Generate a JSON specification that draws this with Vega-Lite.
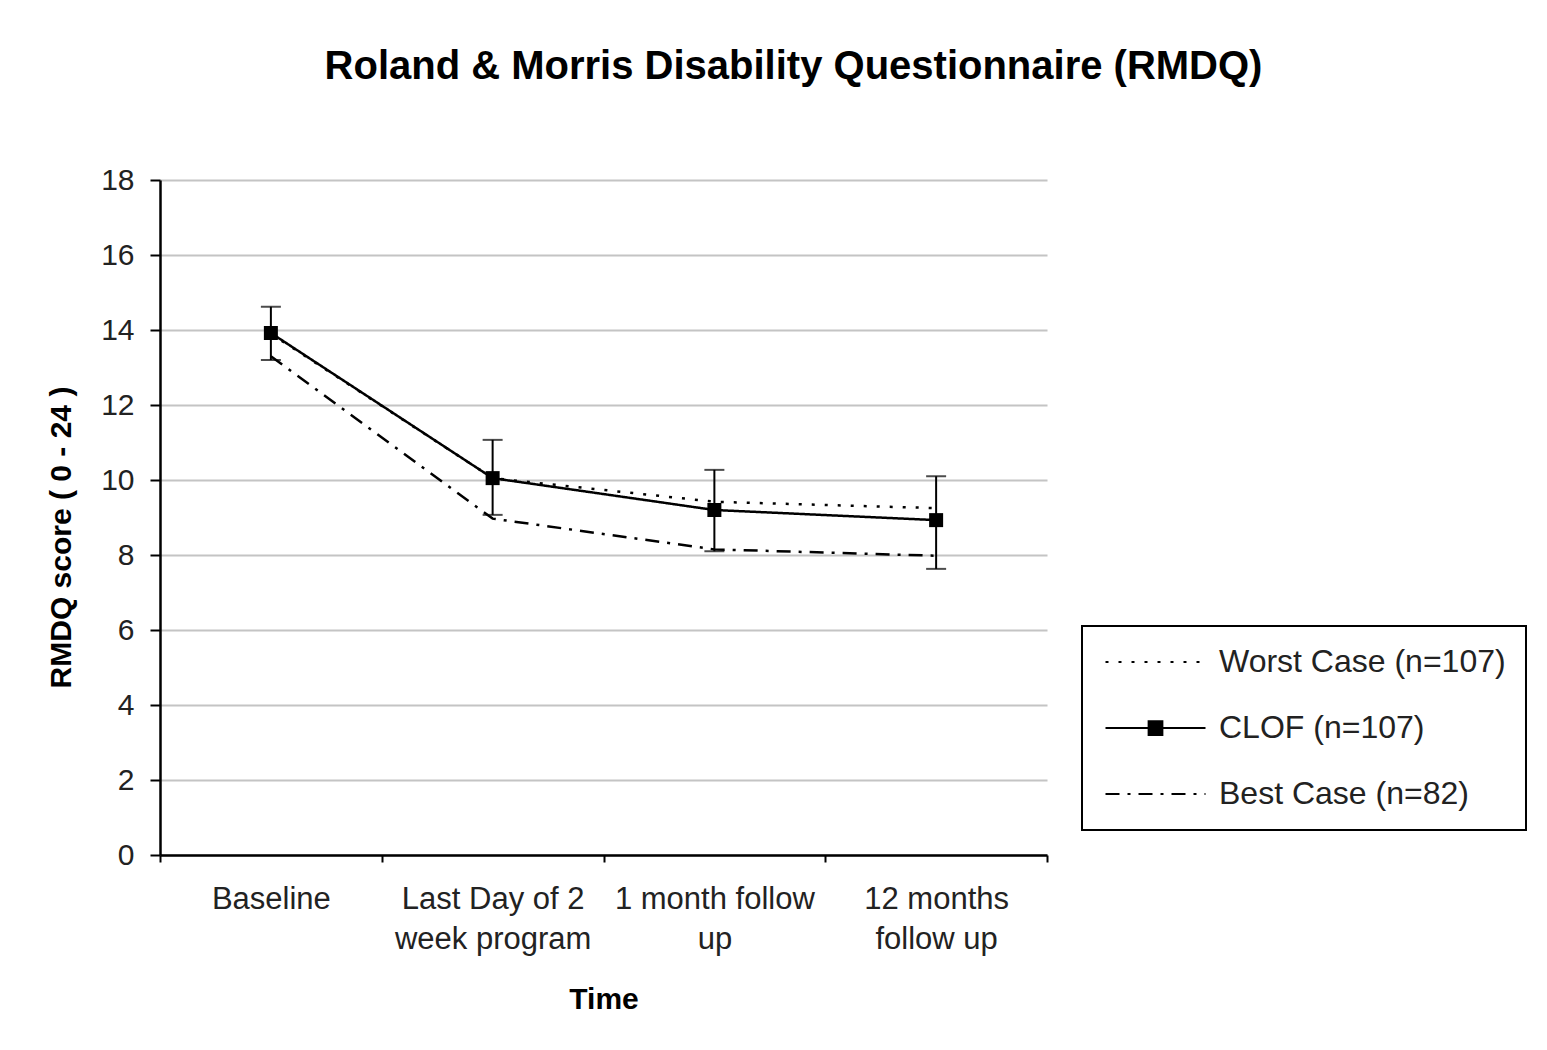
{
  "$schema": "https://vega.github.io/schema/vega-lite/v6.json",
  "width": 887,
  "height": 675,
  "autosize": {"type": "none"},
  "padding": {"left": 160, "top": 180, "right": 500, "bottom": 195},
  "background": "white",
  "config": {
    "font": "Liberation Sans",
    "view": {"stroke": null}
  },
  "title": {
    "text": "Roland & Morris Disability Questionnaire (RMDQ)",
    "font": "Liberation Sans",
    "fontSize": 40,
    "fontWeight": "bold",
    "color": "black",
    "anchor": "middle",
    "frame": "group",
    "dx": 190,
    "offset": 78
  },
  "datasets": {
    "scores": [
      {"time": "Baseline", "series": "Worst Case (n=107)", "score": 13.9},
      {"time": "Last Day of 2 week program", "series": "Worst Case (n=107)", "score": 10.05},
      {"time": "1 month follow up", "series": "Worst Case (n=107)", "score": 9.42},
      {"time": "12 months follow up", "series": "Worst Case (n=107)", "score": 9.25},
      {"time": "Baseline", "series": "CLOF (n=107)", "score": 13.92},
      {"time": "Last Day of 2 week program", "series": "CLOF (n=107)", "score": 10.05},
      {"time": "1 month follow up", "series": "CLOF (n=107)", "score": 9.2},
      {"time": "12 months follow up", "series": "CLOF (n=107)", "score": 8.93},
      {"time": "Baseline", "series": "Best Case (n=82)", "score": 13.3},
      {"time": "Last Day of 2 week program", "series": "Best Case (n=82)", "score": 8.97},
      {"time": "1 month follow up", "series": "Best Case (n=82)", "score": 8.15},
      {"time": "12 months follow up", "series": "Best Case (n=82)", "score": 7.98}
    ],
    "errors": [
      {"time": "Baseline", "lo": 13.2, "hi": 14.62},
      {"time": "Last Day of 2 week program", "lo": 9.07, "hi": 11.07},
      {"time": "1 month follow up", "lo": 8.1, "hi": 10.27},
      {"time": "12 months follow up", "lo": 7.63, "hi": 10.1}
    ]
  },
  "encoding": {
    "x": {
      "field": "time",
      "type": "nominal",
      "sort": ["Baseline", "Last Day of 2 week program", "1 month follow up", "12 months follow up"],
      "scale": {"type": "band", "paddingInner": 0, "paddingOuter": 0},
      "axis": {
        "title": "Time",
        "titleFontSize": 30,
        "titleFontWeight": "bold",
        "titleColor": "black",
        "titlePadding": 30,
        "labelAngle": 0,
        "labelFontSize": 31,
        "labelColor": "#222222",
        "labelPadding": 22,
        "labelLineHeight": 40,
        "labelBaseline": "top",
        "labelLimit": 400,
        "labelExpr": "datum.value === 'Last Day of 2 week program' ? ['Last Day of 2', 'week program'] : datum.value === '1 month follow up' ? ['1 month follow', 'up'] : datum.value === '12 months follow up' ? ['12 months', 'follow up'] : datum.value",
        "tickBand": "extent",
        "tickSize": 7,
        "tickWidth": 2,
        "tickColor": "black",
        "domainColor": "black",
        "domainWidth": 2.5,
        "grid": false
      }
    }
  },
  "layer": [
    {
      "data": {"name": "scores"},
      "mark": {"type": "line", "color": "black", "strokeWidth": 2.5},
      "encoding": {
        "y": {
          "field": "score",
          "type": "quantitative",
          "scale": {"domain": [0, 18]},
          "axis": {
            "title": "RMDQ score ( 0 - 24 )",
            "titleFontSize": 30,
            "titleFontWeight": "bold",
            "titleColor": "black",
            "titlePadding": 24,
            "titleY": 357,
            "values": [0, 2, 4, 6, 8, 10, 12, 14, 16, 18],
            "labelFontSize": 30,
            "labelColor": "#222222",
            "labelPadding": 16,
            "tickSize": 10,
            "tickWidth": 2,
            "tickColor": "black",
            "domainColor": "black",
            "domainWidth": 2.5,
            "grid": true,
            "gridColor": "#c4c4c4",
            "gridWidth": 2
          }
        },
        "detail": {"field": "series"},
        "strokeDash": {
          "field": "series",
          "type": "nominal",
          "scale": {
            "domain": ["Worst Case (n=107)", "CLOF (n=107)", "Best Case (n=82)"],
            "range": [[3, 10], [1, 0], [14, 8, 3, 8]]
          },
          "legend": {
            "title": null,
            "orient": "none",
            "legendX": 922,
            "legendY": 446,
            "padding": 20,
            "strokeColor": "black",
            "labelFontSize": 32,
            "labelColor": "#222222",
            "labelLimit": 500,
            "labelOffset": 85,
            "symbolSize": 625,
            "symbolStrokeWidth": 2,
            "symbolStrokeColor": "black",
            "rowPadding": 34,
            "symbolType": "M-1,0H7",
            "encode": {
              "legend": {
                "update": {
                  "strokeWidth": {"value": 2},
                  "stroke": {"value": "black"}
                }
              },
              "symbols": {
                "update": {
                  "shape": {"signal": "datum.value === 'CLOF (n=107)' ? 'M-1,0H7M2.45,-0.55H3.55V0.55H2.45Z' : 'M-1,0H7'"},
                  "fill": {"value": "black"},
                  "stroke": {"value": "black"}
                }
              }
            }
          }
        }
      }
    },
    {
      "data": {"name": "errors"},
      "mark": {"type": "rule", "color": "black", "strokeWidth": 2},
      "encoding": {
        "y": {"field": "lo", "type": "quantitative"},
        "y2": {"field": "hi"}
      }
    },
    {
      "data": {"name": "errors"},
      "mark": {"type": "tick", "color": "black", "size": 20, "thickness": 2, "orient": "horizontal"},
      "encoding": {
        "y": {"field": "lo", "type": "quantitative"}
      }
    },
    {
      "data": {"name": "errors"},
      "mark": {"type": "tick", "color": "black", "size": 20, "thickness": 2, "orient": "horizontal"},
      "encoding": {
        "y": {"field": "hi", "type": "quantitative"}
      }
    },
    {
      "data": {"name": "scores"},
      "transform": [{"filter": "datum.series === 'CLOF (n=107)'"}],
      "mark": {"type": "point", "shape": "square", "filled": true, "color": "black", "size": 196, "opacity": 1},
      "encoding": {
        "y": {"field": "score", "type": "quantitative"}
      }
    }
  ]
}
